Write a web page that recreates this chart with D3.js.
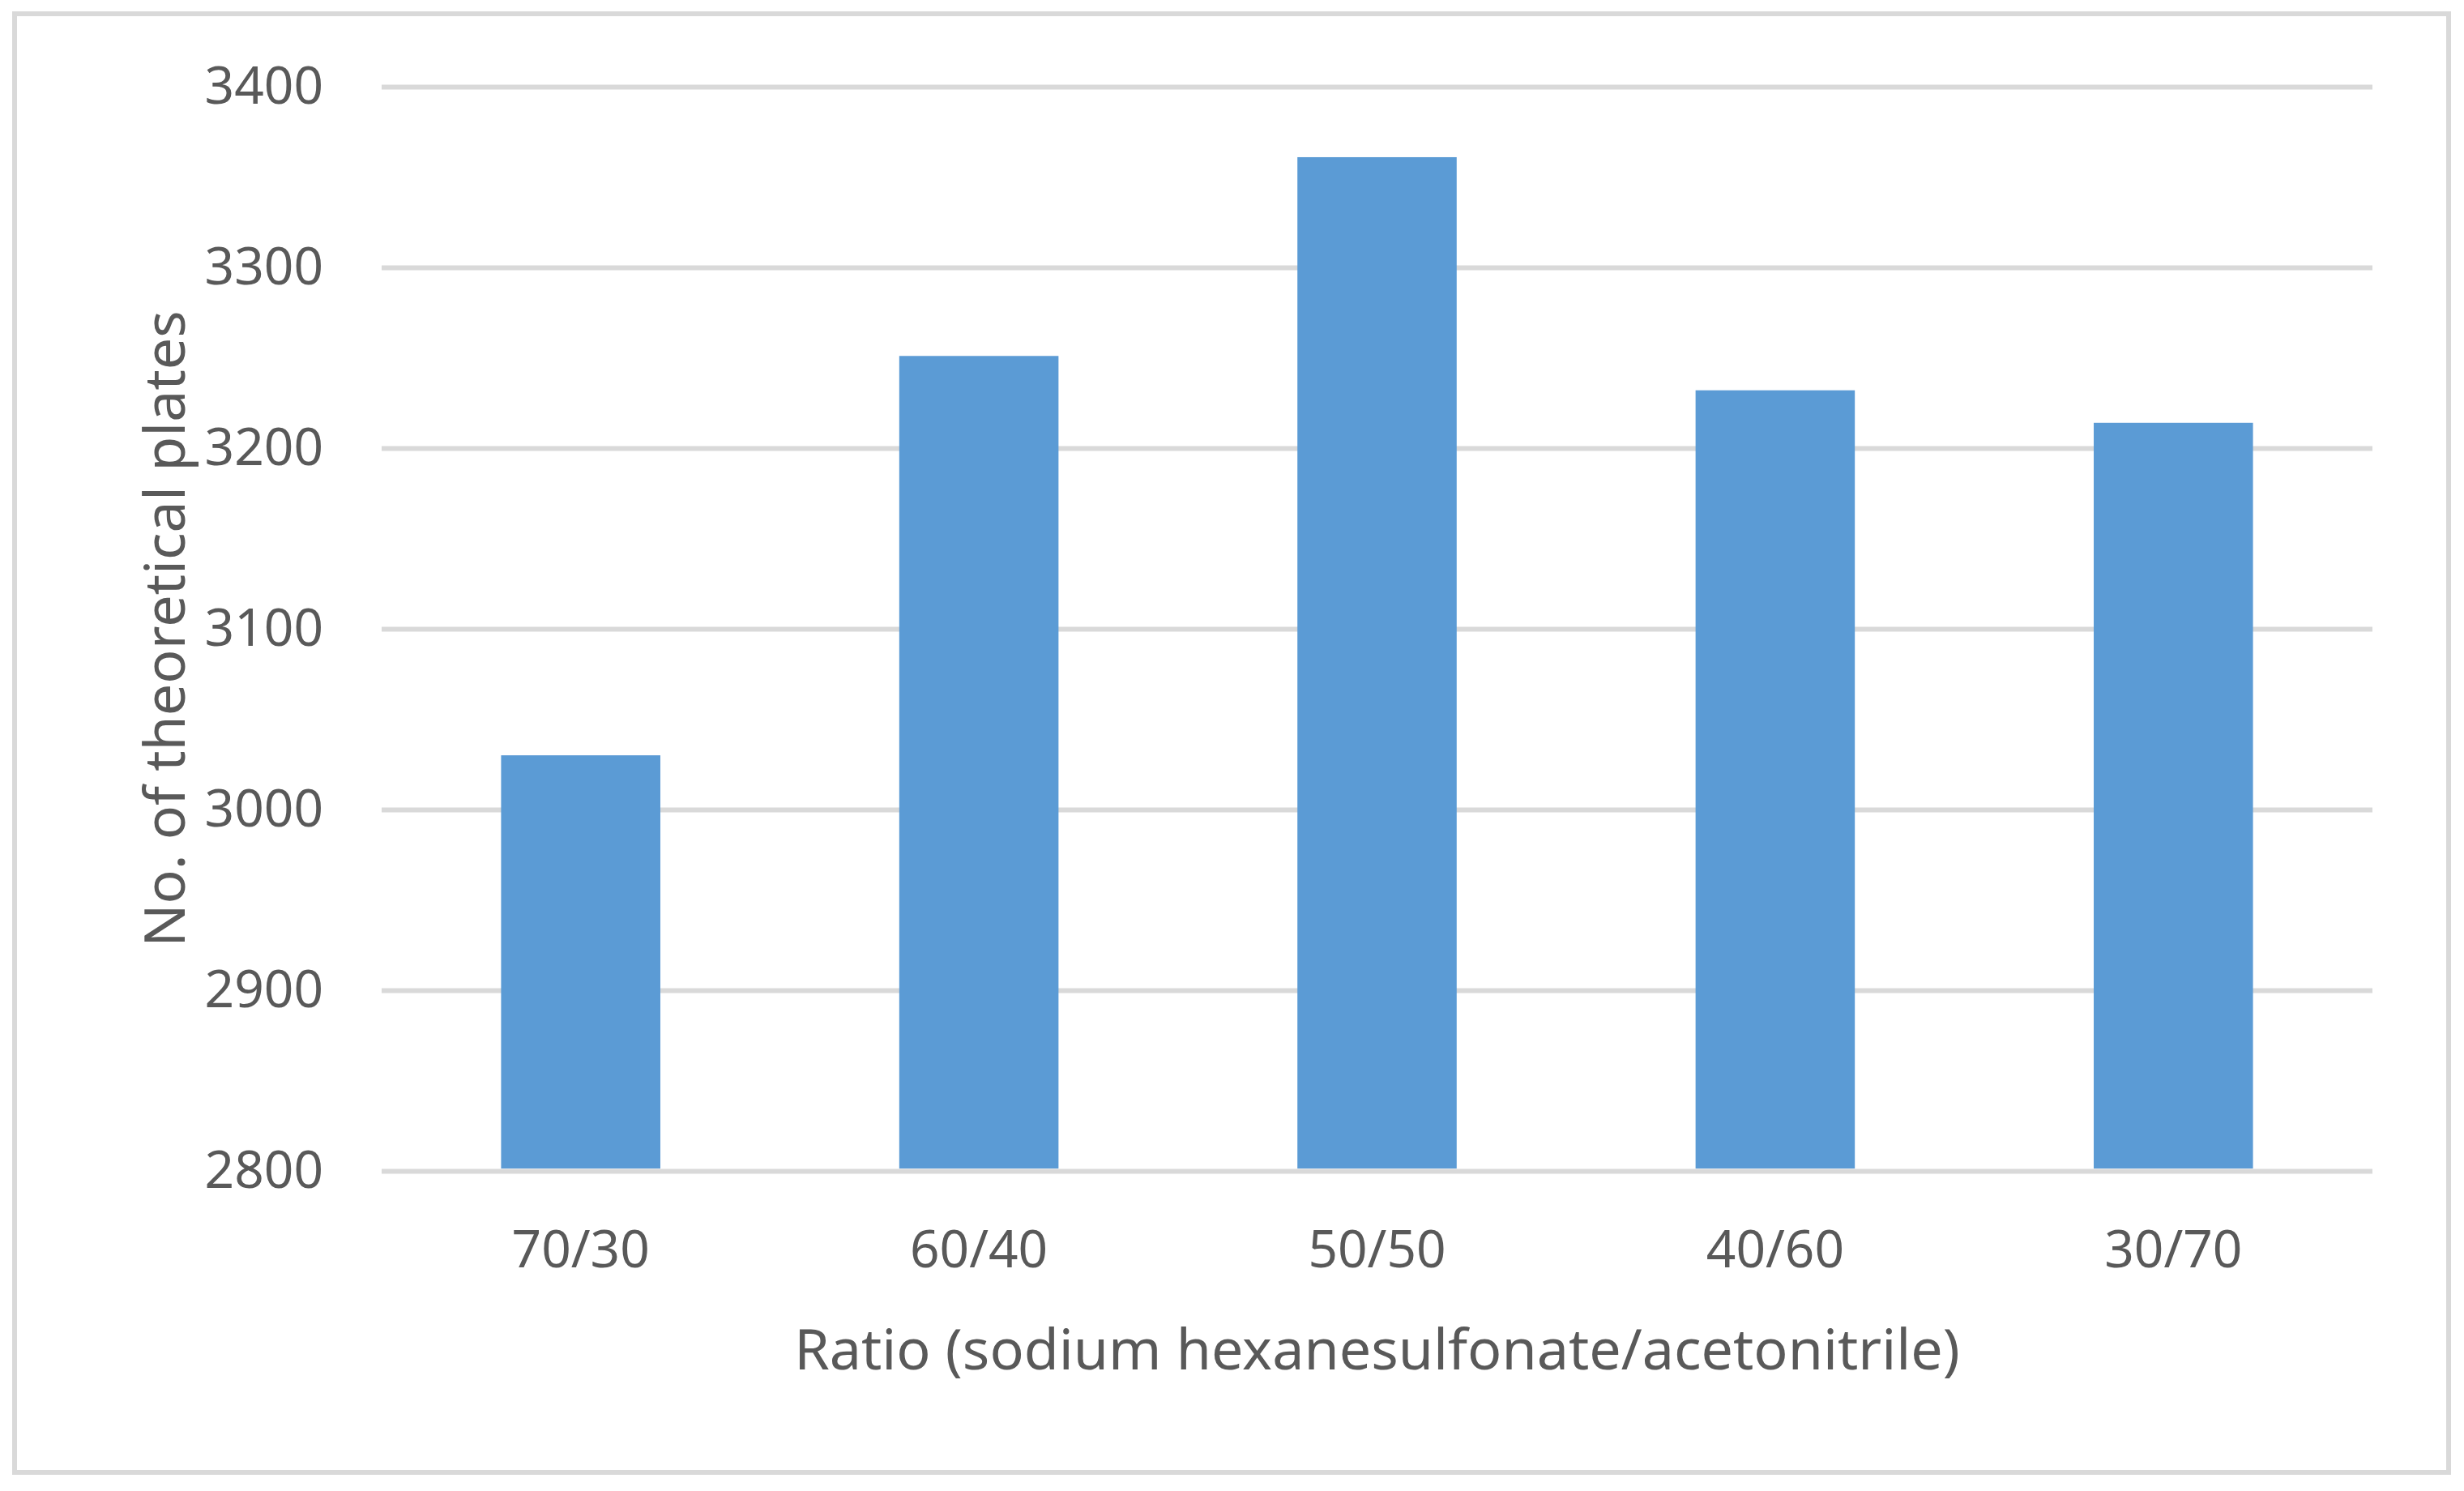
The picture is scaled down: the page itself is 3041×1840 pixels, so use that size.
<!DOCTYPE html>
<html><head><meta charset="utf-8">
<script src="https://cdn.jsdelivr.net/npm/d3@7"></script>
<style>body{margin:0;background:#fff}</style></head>
<body><svg id="c" width="3041" height="1840"></svg>
<script>
const categories = ["70/30","60/40","50/50","40/60","30/70"];
const values = [3030, 3251, 3361, 3232, 3214];
const yTicks = [2800, 2900, 3000, 3100, 3200, 3300, 3400];

const svg = d3.select("#c");
const font = "'Noto Sans', 'Open Sans', sans-serif";
const col = "#595959";
svg.append("rect").attr("x",18).attr("y",17).attr("width",3004).attr("height",1800)
  .attr("fill","#fff").attr("stroke","#d9d9d9").attr("stroke-width",6);

const L=471, R=2928, T=107, B=1445;
const x = d3.scaleBand().domain(categories).range([L,R]).paddingInner(0.6).paddingOuter(0.3);
const y = d3.scaleLinear().domain([2800,3400]).range([B,T]);

const ga = svg.append("g").attr("transform",`translate(${L},0)`)
  .call(d3.axisLeft(y).tickValues(yTicks).tickSize(-(R-L)).tickPadding(72).tickFormat(d3.format("d")));
ga.select(".domain").remove();
ga.selectAll("line").attr("stroke","#d9d9d9").attr("stroke-width",6);
ga.selectAll("text").attr("fill",col).attr("font-size",64).attr("font-family",font);

svg.selectAll("rect.bar").data(values).enter().append("rect").attr("class","bar")
  .attr("x",(d,i)=>x(categories[i])).attr("width",x.bandwidth())
  .attr("y",d=>y(d)).attr("height",d=>B-3-y(d)).attr("fill","#5b9bd5");

const gx = svg.append("g").attr("transform",`translate(0,${B})`)
  .call(d3.axisBottom(x).tickSize(0).tickPadding(74));
gx.select(".domain").remove();
gx.selectAll("text").attr("fill",col).attr("font-size",64).attr("font-family",font);

svg.append("text").attr("x",(L+R)/2).attr("y",1690).attr("text-anchor","middle")
  .attr("fill",col).attr("font-size",70).attr("font-family",font)
  .text("Ratio (sodium hexanesulfonate/acetonitrile)");
svg.append("text").attr("transform",`translate(228,${(T+B)/2}) rotate(-90)`).attr("text-anchor","middle")
  .attr("fill",col).attr("font-size",70).attr("font-family",font)
  .text("No. of theoretical plates");
</script></body></html>
